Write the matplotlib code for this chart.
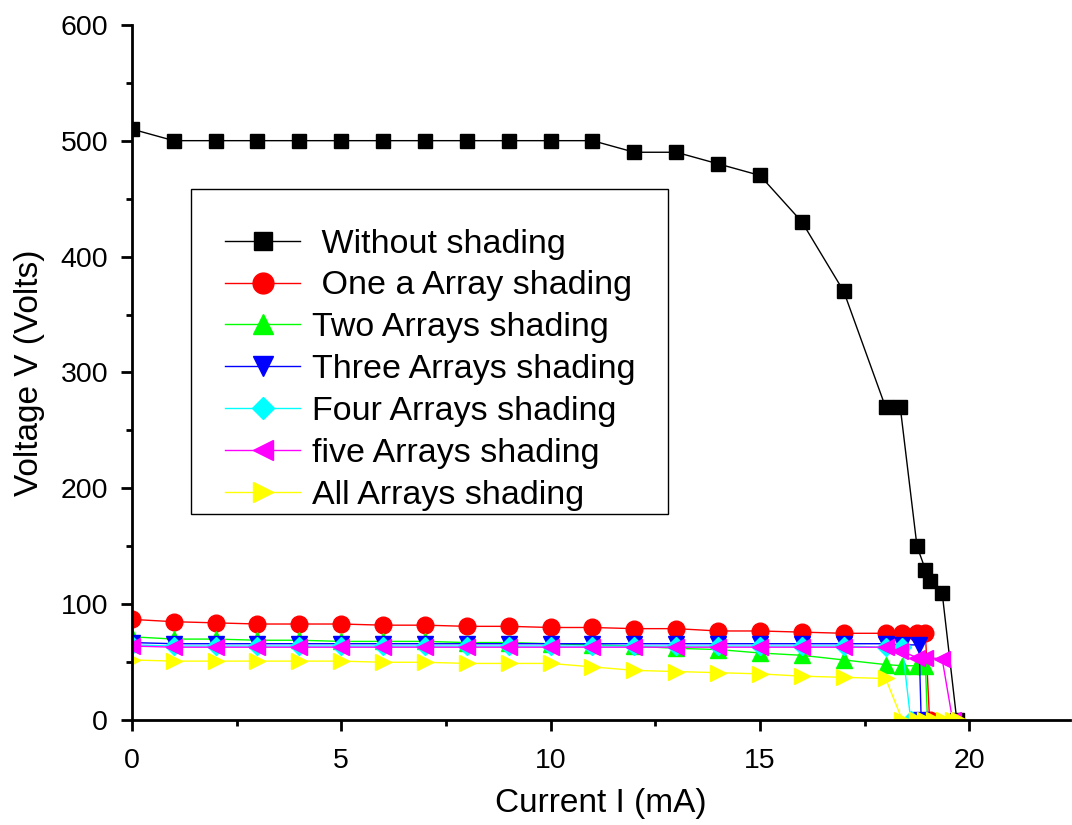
import matplotlib
matplotlib.use('Agg')
import matplotlib.pyplot as plt
from matplotlib.patches import Rectangle
from matplotlib.ticker import MultipleLocator

plt.rcParams['font.family'] = ['Liberation Sans', 'DejaVu Sans']

# current I (mA) and voltage V (Volts) for each shading case
x_main = list(range(19))

x_black = x_main + [18.35, 18.75, 18.95, 19.05, 19.35, 19.7]
v_black = [510, 500, 500, 500, 500, 500, 500, 500, 500, 500, 500, 500,
           490, 490, 480, 470, 430, 370, 270, 270, 150, 130, 120, 110, 0]

x_red = x_main + [18.4, 18.75, 18.95, 19.05]
v_red = [87, 85, 84, 83, 83, 83, 82, 82, 81, 81, 80, 80, 79, 79, 77, 77,
         76, 75, 75, 75, 75, 75, 0]

x_green = x_main + [18.4, 18.75, 18.95, 19.0]
v_green = [72, 70, 70, 69, 69, 68, 68, 68, 67, 67, 66, 65, 64, 62, 61, 58,
           56, 52, 48, 47, 47, 47, 0]

x_blue = x_main + [18.4, 18.8, 18.85]
v_blue = [67, 66, 66, 66, 66, 66, 66, 66, 66, 66, 66, 66, 66, 66, 66, 66,
          66, 66, 66, 65, 65, 0]

x_cyan = x_main + [18.4, 18.6]
v_cyan = [65, 64, 64, 64, 64, 64, 64, 64, 64, 64, 64, 64, 64, 64, 64, 64,
          64, 64, 63, 63, 0]

x_mag = x_main + [18.35, 18.75, 18.95, 19.35, 19.6]
v_mag = [64, 63, 63, 63, 63, 63, 63, 63, 63, 63, 63, 63, 63, 63, 63, 63,
         63, 63, 63, 60, 54, 54, 53, 0]

x_yel = x_main + [18.4, 18.75, 18.95, 19.15, 19.4, 19.6, 19.75]
v_yel = [52, 51, 51, 51, 51, 51, 50, 50, 49, 49, 49, 46, 43, 42, 41, 40,
         38, 37, 36, 0, 0, 0, 0, 0, 0, 0]

labels = [' Without shading', ' One a Array shading', 'Two Arrays shading',
          'Three Arrays shading', 'Four Arrays shading', 'five Arrays shading',
          'All Arrays shading']

fig = plt.figure(figsize=(10.72, 8.25), dpi=100)
ax = fig.add_axes([0.123, 0.127, 0.875, 0.843])

ax.plot(x_black, v_black, 's-', color='black', lw=1, ms=10, label=labels[0])
ax.plot(x_red, v_red, 'o-', color='red', lw=1, ms=12, label=labels[1])
ax.plot(x_green, v_green, '^-', color='#00ff00', lw=1, ms=12, label=labels[2])
ax.plot(x_blue, v_blue, 'v-', color='#0000ff', lw=1, ms=12, label=labels[3])
ax.plot(x_cyan, v_cyan, 'D-', color='#00ffff', lw=1, ms=9, label=labels[4])
ax.plot(x_mag, v_mag, '<-', color='#ff00ff', lw=1, ms=12, label=labels[5])
ax.plot(x_yel, v_yel, '>-', color='#ffff00', lw=1, ms=12, label=labels[6])

ax.set_xlim(0, 22.4)
ax.set_ylim(0, 600)
ax.xaxis.set_major_locator(MultipleLocator(5))
ax.xaxis.set_minor_locator(MultipleLocator(2.5))
ax.yaxis.set_major_locator(MultipleLocator(100))
ax.yaxis.set_minor_locator(MultipleLocator(50))

for s in ['top', 'right']:
    ax.spines[s].set_visible(False)
for s in ['left', 'bottom']:
    ax.spines[s].set_linewidth(2)
ax.tick_params(which='major', direction='out', length=8, width=2, labelsize=20.5)
ax.tick_params(axis='x', which='major', pad=12)
ax.tick_params(axis='y', which='major', pad=9)
ax.tick_params(which='minor', direction='out', length=4, width=2)

ax.set_xlabel('Current I (mA)', fontsize=24, labelpad=10)
ax.set_ylabel('Voltage V (Volts)', fontsize=24, labelpad=11)

# legend box drawn separately so the padding matches the original
ax.add_patch(Rectangle((0.063, 0.2964), 0.5085, 0.4676, transform=ax.transAxes,
                       facecolor='white', edgecolor='black', lw=1, zorder=4))
leg = ax.legend(loc='upper left', bbox_to_anchor=(0.067, 0.751), fontsize=24.5,
                frameon=False, handlelength=2.2, labelspacing=0.32,
                borderpad=0.9, handletextpad=0.35, borderaxespad=0,
                markerscale=1.25)
leg.set_zorder(5)

plt.savefig('out.png', dpi=100)
